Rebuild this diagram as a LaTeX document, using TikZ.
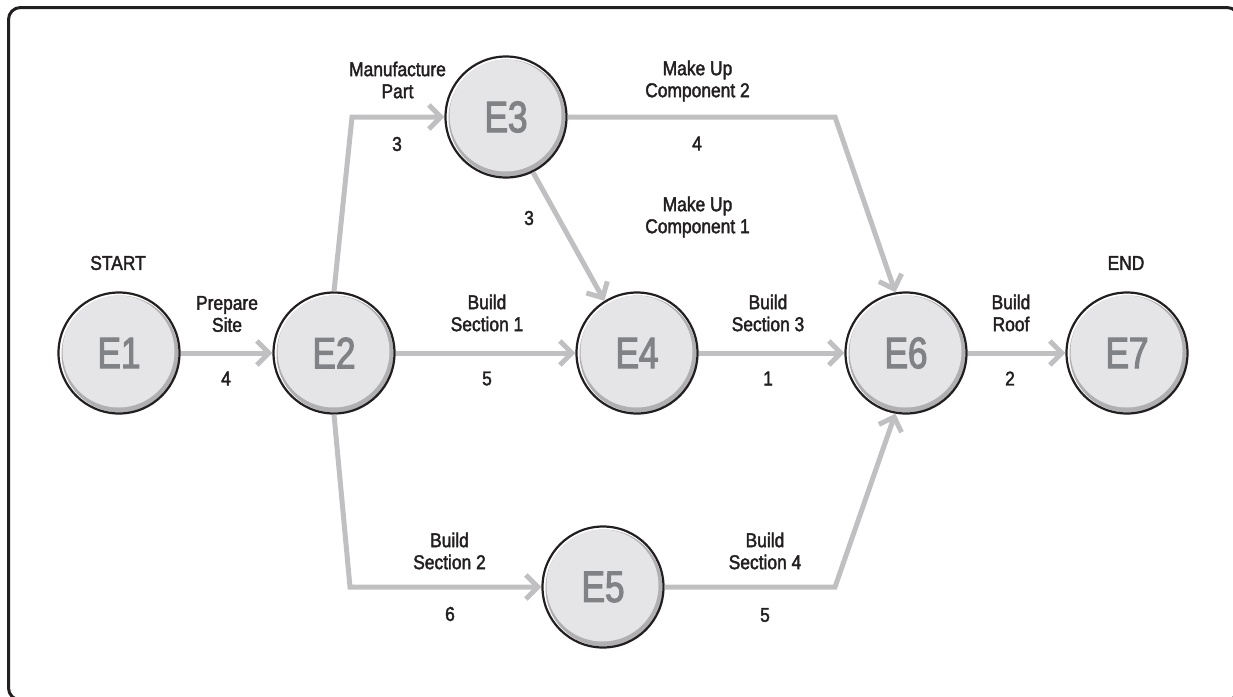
\documentclass[tikz,border=0pt]{standalone}
\usepackage{fontspec}
\setmainfont{Liberation Sans}[FakeStretch=0.87, FakeBold=2]
\newfontfamily\eventfont{Liberation Sans}[FakeStretch=0.8, FakeBold=2.5]
\usetikzlibrary{arrows.meta}

\definecolor{ink}{RGB}{35,31,32}
\definecolor{wire}{RGB}{192,192,194}
\definecolor{disc}{RGB}{229,229,231}
\definecolor{rim}{RGB}{176,176,178}
\definecolor{eventtext}{RGB}{128,130,133}

\tikzset{
  event/.style={circle, draw=ink, line width=2.2pt, minimum size=121pt, inner sep=0pt,
    font=\eventfont\fontsize{44}{44}\selectfont, text=eventtext,
    path picture={
      \fill[white] (path picture bounding box.center) circle (61pt);
      \fill[rim] ([shift={(1pt,-1pt)}]path picture bounding box.center) circle (58.5pt);
      \fill[disc] ([shift={(-0.5pt,1.5pt)}]path picture bounding box.center) circle (56pt);
    }},
  lbl/.style={font=\fontsize{20}{22}\selectfont, text=ink, align=center, inner sep=0pt},
  arr/.style={draw=wire, line width=5pt, line join=miter,
    -{Straight Barb[length=12pt,width=24pt]}}
}

\begin{document}
\begin{tikzpicture}[x=1pt, y=-1pt]
  \useasboundingbox (0,0) rectangle (1233,696);
  \clip (0,0) rectangle (1233,696);

  % outer frame
  \draw[ink, line width=3pt, rounded corners=12pt] (8.5,7.5) rectangle (1239,700);

  % events
  \node[event] (E1) at (119,353) {E1};
  \node[event] (E2) at (334,353) {E2};
  \node[event] (E3) at (506,117) {E3};
  \node[event] (E4) at (637,353) {E4};
  \node[event] (E5) at (603,587) {E5};
  \node[event] (E6) at (906,353) {E6};
  \node[event] (E7) at (1127,353) {E7};

  % bends of the routed activities
  \coordinate (b23) at (352,117);
  \coordinate (b25) at (350,587);
  \coordinate (b36) at (835,117);
  \coordinate (b56) at (835,587);

  % activities
  \draw[arr] (E1) -- (E2);
  \draw[arr] (E2.north) -- (b23) -- (E3);
  \draw[arr] (E2.south) -- (b25) -- (E5);
  \draw[arr] (E2) -- (E4);
  \draw[arr] (E3.-64) -- (E4.122);
  \draw[arr] (E3) -- (b36) -- (E6.100);
  \draw[arr] (E4) -- (E6);
  \draw[arr] (E5) -- (b56) -- (E6.-100);
  \draw[arr] (E6) -- (E7);

  % start and end markers
  \node[lbl] (start) at (118,263) {START};
  \node[lbl] (end) at (1126,263) {END};

  % activity names and durations
  \node[lbl] (a12) at (227,314) {Prepare\\Site};
  \node[lbl] (d12) at (226,378.5) {4};
  \node[lbl] (a23) at (397.5,80) {Manufacture\\Part};
  \node[lbl] (d23) at (397,144) {3};
  \node[lbl] (a36) at (697.5,81) {Make Up\\Component 2};
  \node[lbl] (d36) at (697,143.5) {4};
  \node[lbl] (d34) at (529,218) {3};
  \node[lbl] (a34) at (697.5,217) {Make Up\\Component 1};
  \node[lbl] (a24) at (487,313) {Build\\Section 1};
  \node[lbl] (d24) at (487,378.5) {5};
  \node[lbl] (a46) at (768,313) {Build\\Section 3};
  \node[lbl] (d46) at (768,378.5) {1};
  \node[lbl] (a67) at (1011,313) {Build\\Roof};
  \node[lbl] (d67) at (1010,378.5) {2};
  \node[lbl] (a25) at (449.5,551) {Build\\Section 2};
  \node[lbl] (d25) at (450,614) {6};
  \node[lbl] (a56) at (765,551) {Build\\Section 4};
  \node[lbl] (d56) at (765,615) {5};
\end{tikzpicture}
\end{document}
